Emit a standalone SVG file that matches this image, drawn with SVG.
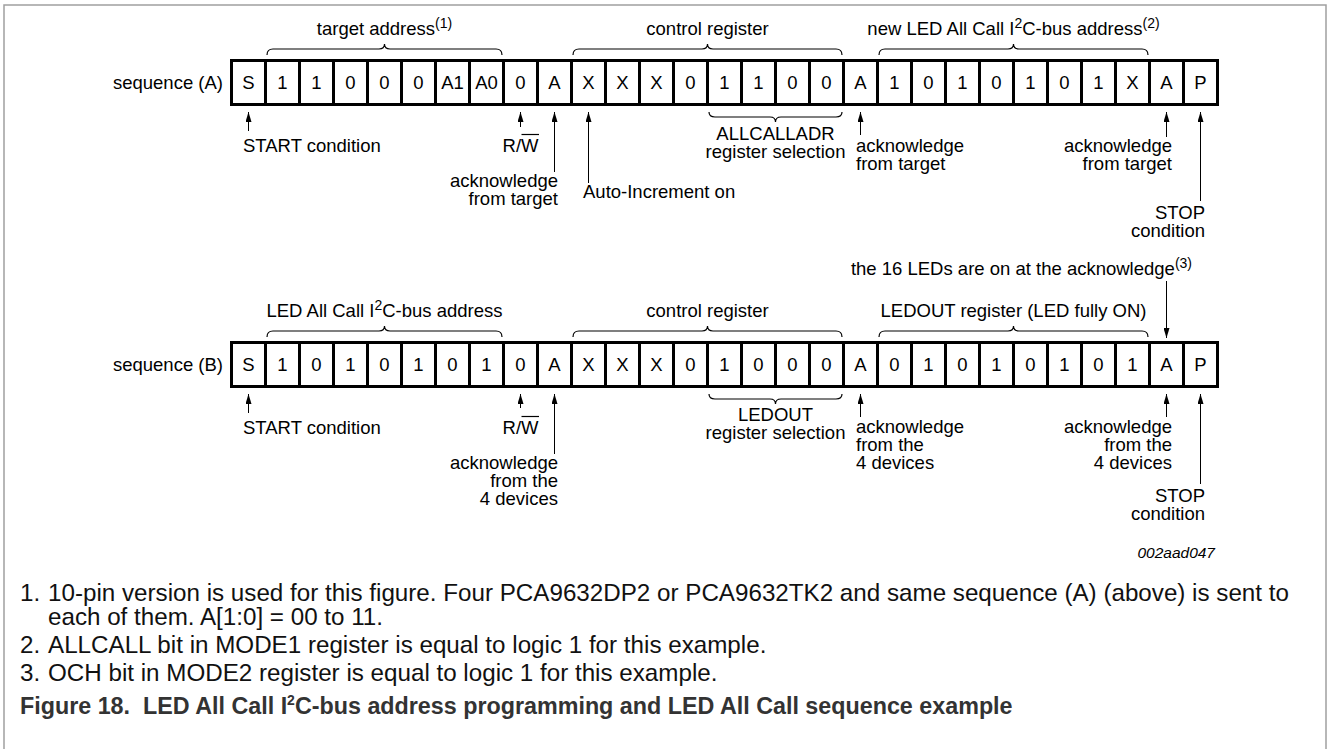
<svg xmlns="http://www.w3.org/2000/svg" width="1330" height="749" viewBox="0 0 1330 749">
<style>
text{font-family:"Liberation Sans",Arial,sans-serif;font-size:18.5px;fill:#000}
.m{text-anchor:middle}
.e{text-anchor:end}
.sup{font-size:14px}
.fn{font-size:24.2px;fill:#111}
.cap{font-size:23.3px;font-weight:bold;fill:#333}
.id{font-size:15.5px;font-style:italic}
.box{fill:none;stroke:#000;stroke-width:3}
.sep{stroke:#000;stroke-width:3}
.arr{stroke:#000;stroke-width:1;fill:none;marker-end:url(#ah)}
.br{fill:none;stroke:#000;stroke-width:1.2}
.ol{stroke:#000;stroke-width:1.2}
.frame{fill:none;stroke:#a0a0a0;stroke-width:1.5}
</style>
<defs>
<marker id="ah" viewBox="0 0 10 6" refX="10" refY="3" markerWidth="10" markerHeight="6" markerUnits="userSpaceOnUse" orient="auto">
<path d="M0,0 L10,3 L0,6 z" fill="#000"/>
</marker>
<g id="cells">
<rect class="box" x="231.5" y="0" width="986" height="44"/>
<path class="sep" d="M265.5,0V44M299.5,0V44M333.5,0V44M367.5,0V44M401.5,0V44M435.5,0V44M469.5,0V44M503.5,0V44M537.5,0V44M571.5,0V44M605.5,0V44M639.5,0V44M673.5,0V44M707.5,0V44M741.5,0V44M775.5,0V44M809.5,0V44M843.5,0V44M877.5,0V44M911.5,0V44M945.5,0V44M979.5,0V44M1013.5,0V44M1047.5,0V44M1081.5,0V44M1115.5,0V44M1149.5,0V44M1183.5,0V44"/>
</g>
</defs>
<path class="frame" d="M4,749V5H1326V749"/>

<g id="sequence-A">
<use href="#cells" y="60.5"/>
<text class="e" x="223" y="89">sequence (A)</text>
<g class="m">
<text x="248.5" y="89">S</text><text x="282.5" y="89">1</text><text x="316.5" y="89">1</text><text x="350.5" y="89">0</text><text x="384.5" y="89">0</text><text x="418.5" y="89">0</text><text x="452.5" y="89">A1</text><text x="486.5" y="89">A0</text><text x="520.5" y="89">0</text><text x="554.5" y="89">A</text><text x="588.5" y="89">X</text><text x="622.5" y="89">X</text><text x="656.5" y="89">X</text><text x="690.5" y="89">0</text><text x="724.5" y="89">1</text><text x="758.5" y="89">1</text><text x="792.5" y="89">0</text><text x="826.5" y="89">0</text><text x="860.5" y="89">A</text><text x="894.5" y="89">1</text><text x="928.5" y="89">0</text><text x="962.5" y="89">1</text><text x="996.5" y="89">0</text><text x="1030.5" y="89">1</text><text x="1064.5" y="89">0</text><text x="1098.5" y="89">1</text><text x="1132.5" y="89">X</text><text x="1166.5" y="89">A</text><text x="1200.5" y="89">P</text>
</g>
</g>

<g id="labels-A">
<text class="m" x="384.5" y="35">target address<tspan class="sup" dy="-7">(1)</tspan></text>
<text class="m" x="707.5" y="35">control register</text>
<text class="m" x="1013.5" y="35">new LED All Call I<tspan class="sup" dy="-7">2</tspan><tspan dy="7">C-bus address</tspan><tspan class="sup" dy="-7">(2)</tspan></text>
<text x="243" y="152">START condition</text>
<text class="m" x="520.5" y="152">R/W</text>
<line class="ol" x1="521.5" y1="134.5" x2="539" y2="134.5"/>
<text class="e" x="558" y="187">acknowledge</text>
<text class="e" x="558" y="205">from target</text>
<text x="583" y="198">Auto-Increment on</text>
<text class="m" x="775.5" y="140">ALLCALLADR</text>
<text class="m" x="775.5" y="158">register selection</text>
<text x="856" y="152">acknowledge</text>
<text x="856" y="170">from target</text>
<text class="e" x="1172" y="152">acknowledge</text>
<text class="e" x="1172" y="170">from target</text>
<text class="e" x="1205" y="219">STOP</text>
<text class="e" x="1205" y="237">condition</text>
</g>

<g id="sequence-B">
<use href="#cells" y="342.5"/>
<text class="e" x="223" y="371">sequence (B)</text>
<g class="m">
<text x="248.5" y="371">S</text><text x="282.5" y="371">1</text><text x="316.5" y="371">0</text><text x="350.5" y="371">1</text><text x="384.5" y="371">0</text><text x="418.5" y="371">1</text><text x="452.5" y="371">0</text><text x="486.5" y="371">1</text><text x="520.5" y="371">0</text><text x="554.5" y="371">A</text><text x="588.5" y="371">X</text><text x="622.5" y="371">X</text><text x="656.5" y="371">X</text><text x="690.5" y="371">0</text><text x="724.5" y="371">1</text><text x="758.5" y="371">0</text><text x="792.5" y="371">0</text><text x="826.5" y="371">0</text><text x="860.5" y="371">A</text><text x="894.5" y="371">0</text><text x="928.5" y="371">1</text><text x="962.5" y="371">0</text><text x="996.5" y="371">1</text><text x="1030.5" y="371">0</text><text x="1064.5" y="371">1</text><text x="1098.5" y="371">0</text><text x="1132.5" y="371">1</text><text x="1166.5" y="371">A</text><text x="1200.5" y="371">P</text>
</g>
</g>

<g id="labels-B">
<text class="e" x="1192" y="275">the 16 LEDs are on at the acknowledge<tspan class="sup" dy="-7">(3)</tspan></text>
<text class="m" x="384.5" y="317">LED All Call I<tspan class="sup" dy="-7">2</tspan><tspan dy="7">C-bus address</tspan></text>
<text class="m" x="707.5" y="317">control register</text>
<text class="m" x="1013.5" y="317">LEDOUT register (LED fully ON)</text>
<text x="243" y="434">START condition</text>
<text class="m" x="520.5" y="434">R/W</text>
<line class="ol" x1="521.5" y1="416.5" x2="539" y2="416.5"/>
<text class="e" x="558" y="469">acknowledge</text>
<text class="e" x="558" y="487">from the</text>
<text class="e" x="558" y="505">4 devices</text>
<text class="m" x="775.5" y="421">LEDOUT</text>
<text class="m" x="775.5" y="439">register selection</text>
<text x="856" y="433">acknowledge</text>
<text x="856" y="451">from the</text>
<text x="856" y="469">4 devices</text>
<text class="e" x="1172" y="433">acknowledge</text>
<text class="e" x="1172" y="451">from the</text>
<text class="e" x="1172" y="469">4 devices</text>
<text class="e" x="1205" y="502">STOP</text>
<text class="e" x="1205" y="520">condition</text>
<text class="e id" x="1215" y="558">002aad047</text>
</g>

<g id="connectors">
<path class="br" d="M267,55Q267,49 273,49H379Q384.5,49 384.5,44Q384.5,49 390,49H496Q502,49 502,55"/>
<path class="br" d="M573,55Q573,49 579,49H702Q707.5,49 707.5,44Q707.5,49 713,49H836Q842,49 842,55"/>
<path class="br" d="M879,55Q879,49 885,49H1008Q1013.5,49 1013.5,44Q1013.5,49 1019,49H1142Q1148,49 1148,55"/>
<path class="br" d="M709,112Q709,117 715,117H770Q775.5,117 775.5,122Q775.5,117 781,117H836Q842,117 842,112"/>
<path class="br" d="M267,337Q267,331 273,331H379Q384.5,331 384.5,326Q384.5,331 390,331H496Q502,331 502,337"/>
<path class="br" d="M573,337Q573,331 579,331H702Q707.5,331 707.5,326Q707.5,331 713,331H836Q842,331 842,337"/>
<path class="br" d="M879,337Q879,331 885,331H1008Q1013.5,331 1013.5,326Q1013.5,331 1019,331H1142Q1148,331 1148,337"/>
<path class="br" d="M709,394Q709,399 715,399H770Q775.5,399 775.5,404Q775.5,399 781,399H836Q842,399 842,394"/>
<line class="arr" x1="248.5" y1="131" x2="248.5" y2="112"/>
<line class="arr" x1="520.5" y1="127" x2="520.5" y2="112"/>
<line class="arr" x1="554.5" y1="172" x2="554.5" y2="112"/>
<line class="arr" x1="588.5" y1="183" x2="588.5" y2="112"/>
<line class="arr" x1="860.5" y1="135" x2="860.5" y2="112"/>
<line class="arr" x1="1166.5" y1="137" x2="1166.5" y2="112"/>
<line class="arr" x1="1200.5" y1="201" x2="1200.5" y2="112"/>
<line class="arr" x1="1166.5" y1="281" x2="1166.5" y2="338"/>
<line class="arr" x1="248.5" y1="413" x2="248.5" y2="394"/>
<line class="arr" x1="520.5" y1="408" x2="520.5" y2="394"/>
<line class="arr" x1="554.5" y1="454" x2="554.5" y2="394"/>
<line class="arr" x1="860.5" y1="417" x2="860.5" y2="394"/>
<line class="arr" x1="1166.5" y1="417" x2="1166.5" y2="394"/>
<line class="arr" x1="1200.5" y1="484" x2="1200.5" y2="394"/>
</g>

<g id="notes">
<text class="fn" x="20" y="601">1.</text>
<text class="fn" x="48" y="601">10-pin version is used for this figure. Four PCA9632DP2 or PCA9632TK2 and same sequence (A) (above) is sent to</text>
<text class="fn" x="48" y="625">each of them. A[1:0] = 00 to 11.</text>
<text class="fn" x="20" y="653">2.</text>
<text class="fn" x="48" y="653">ALLCALL bit in MODE1 register is equal to logic 1 for this example.</text>
<text class="fn" x="20" y="681">3.</text>
<text class="fn" x="48" y="681">OCH bit in MODE2 register is equal to logic 1 for this example.</text>
<text class="cap" x="20" y="714" xml:space="preserve">Figure 18.  LED All Call I<tspan font-size="14" dy="-9">2</tspan><tspan dy="9">C-bus address programming and LED All Call sequence example</tspan></text>
</g>
</svg>
